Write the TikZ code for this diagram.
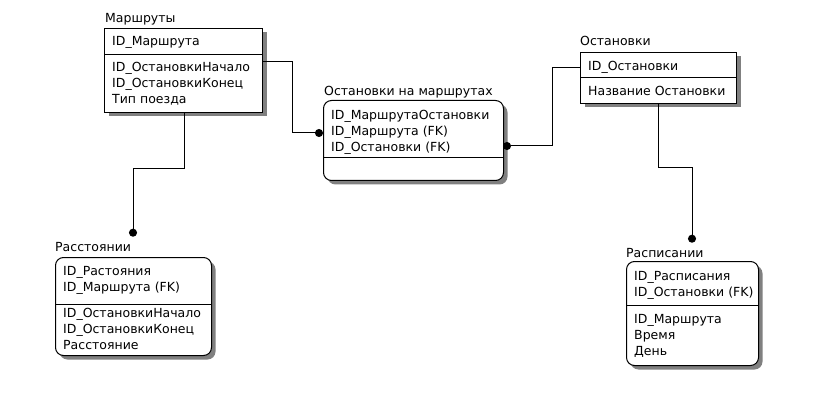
\documentclass[tikz,border=0pt]{standalone}
\usepackage{fontspec}
\setmainfont{DejaVu Sans}
\usepackage{tikz}
\usetikzlibrary{arrows.meta,shadows,calc}
\definecolor{tenbox}{HTML}{808080}

\begin{document}
\begin{tikzpicture}[
  x=1pt, y=-1pt,
  entity/.style={draw, rectangle, line width=1pt, anchor=north west, inner sep=0pt,
                 fill=white, drop shadow={shadow xshift=4pt, shadow yshift=-4pt,
                 fill=tenbox, opacity=1}},
  depent/.style={entity, rounded corners=8pt},
  title/.style={font=\fontsize{12.5}{16}\selectfont, inner sep=0pt, anchor=base west},
  attr/.style={font=\fontsize{12.5}{16}\selectfont, inner sep=0pt, anchor=north west, align=left},
  sep/.style={line width=1pt},
  rel/.style={draw, line width=1pt, >={Circle[length=8pt,width=8pt]}}
]
  \useasboundingbox[fill=white] (0,0) rectangle (829,406);

  % entities
  \node[entity] (marshruty)  at (104,28)  [minimum width=158pt, minimum height=84pt] {};
  \node[depent] (ostnamarsh) at (323,100) [minimum width=180pt, minimum height=80pt] {};
  \node[entity] (ostanovki)  at (580,52)  [minimum width=156pt, minimum height=51pt] {};
  \node[depent] (rasst)      at (55,257)  [minimum width=156pt, minimum height=98pt] {};
  \node[depent] (raspis)     at (626,261) [minimum width=132pt, minimum height=104pt] {};

  % titles
  \node[title] (marshruty-t)  at (105,23)  {Маршруты};
  \node[title] (ostnamarsh-t) at (324,96)  {Остановки на маршрутах};
  \node[title] (ostanovki-t)  at (580,46)  {Остановки};
  \node[title] (rasst-t)      at (55,251)  {Расстоянии};
  \node[title] (raspis-t)     at (626,257) {Расписании};

  % key / non-key separators
  \draw[sep] (marshruty.west |- 0,55)   -- (marshruty.east |- 0,55);
  \draw[sep] (ostnamarsh.west |- 0,158) -- (ostnamarsh.east |- 0,158);
  \draw[sep] (ostanovki.west |- 0,78)   -- (ostanovki.east |- 0,78);
  \draw[sep] (rasst.west |- 0,304)      -- (rasst.east |- 0,304);
  \draw[sep] (raspis.west |- 0,305)     -- (raspis.east |- 0,305);

  % attributes
  \node[attr] (marshruty-k)  at (112,36)  {ID\_Маршрута};
  \node[attr] (marshruty-a)  at (112,62)  {ID\_ОстановкиНачало\\ID\_ОстановкиКонец\\Тип поезда};
  \node[attr] (ostnamarsh-k) at (331,110) {ID\_МаршрутаОстановки\\ID\_Маршрута (FK)\\ID\_Остановки (FK)};
  \node[attr] (ostanovki-k)  at (588,61)  {ID\_Остановки};
  \node[attr] (ostanovki-a)  at (588,86)  {Название Остановки};
  \node[attr] (rasst-k)      at (63,266)  {ID\_Растояния\\ID\_Маршрута (FK)};
  \node[attr] (rasst-a)      at (63,308)  {ID\_ОстановкиНачало\\ID\_ОстановкиКонец\\Расстояние};
  \node[attr] (raspis-k)     at (634,271) {ID\_Расписания\\ID\_Остановки (FK)};
  \node[attr] (raspis-a)     at (634,314) {ID\_Маршрута\\Время\\День};

  % relationships
  \draw[rel,->] (marshruty.east |- 0,62) -- (292,62) -- (292,133)
      -- (ostnamarsh.west |- 0,133);
  \draw[rel,<-, shorten <=-1pt] (ostnamarsh.east |- 0,146) -- (552,146) -- (552,68)
      -- (ostanovki.west |- 0,68);
  \draw[rel,->, shorten >=5pt] (marshruty.south -| 184,0) -- (184,169) -- (133,169)
      -- (rasst-t.north -| 133,0);
  \draw[rel,->, shorten >=5pt] (ostanovki.south -| 658,0) -- (658,168) -- (692,168)
      -- (raspis-t.north -| 692,0);

\end{tikzpicture}
\end{document}
